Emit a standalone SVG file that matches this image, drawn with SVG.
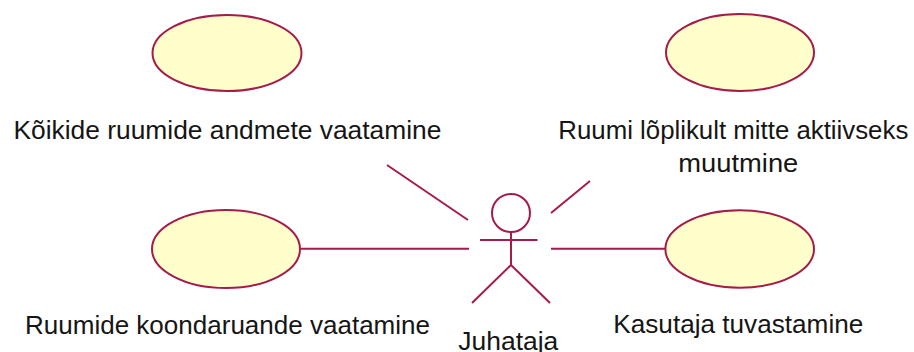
<svg xmlns="http://www.w3.org/2000/svg" width="914" height="352" viewBox="0 0 914 352">
<style>
.uc{fill:#ffffcc;stroke:#a51b4b;stroke-width:2}
.ln{stroke:#a51b4b;stroke-width:2;fill:none}
.lbl{font-family:"Liberation Sans",Arial,sans-serif;font-size:26.4px;fill:#151515;text-anchor:middle}
</style>
<rect width="914" height="352" fill="#ffffff"/>
<g id="connectors">
<line class="ln" x1="387" y1="165" x2="468" y2="220"/>
<line class="ln" x1="551" y1="213" x2="590" y2="181"/>
<line class="ln" x1="300" y1="248.7" x2="469" y2="248.7"/>
<line class="ln" x1="551" y1="248.7" x2="665" y2="248.7"/>
</g>
<g id="uc1">
<ellipse class="uc" cx="227" cy="53" rx="74.5" ry="38"/>
<text class="lbl" x="227.4" y="139" textLength="428" lengthAdjust="spacingAndGlyphs">Kõikide ruumide andmete vaatamine</text>
</g>
<g id="uc2">
<ellipse class="uc" cx="740" cy="52.5" rx="74" ry="38.5"/>
<text class="lbl" x="733.3" y="139.3" textLength="350" lengthAdjust="spacingAndGlyphs">Ruumi lõplikult mitte aktiivseks</text>
<text class="lbl" x="738.3" y="171.7" textLength="120" lengthAdjust="spacingAndGlyphs">muutmine</text>
</g>
<g id="uc3">
<ellipse class="uc" cx="226" cy="249" rx="74" ry="39"/>
<text class="lbl" x="227.5" y="334.3" textLength="405" lengthAdjust="spacingAndGlyphs">Ruumide koondaruande vaatamine</text>
</g>
<g id="uc4">
<ellipse class="uc" cx="739.7" cy="249" rx="74.3" ry="38.7"/>
<text class="lbl" x="738.3" y="333.3" textLength="250" lengthAdjust="spacingAndGlyphs">Kasutaja tuvastamine</text>
</g>
<g id="actor">
<circle class="ln" cx="511" cy="213" r="19"/>
<line class="ln" x1="511" y1="232" x2="511" y2="265"/>
<line class="ln" x1="480" y1="240" x2="537.5" y2="240"/>
<line class="ln" x1="511" y1="265" x2="472" y2="303"/>
<line class="ln" x1="511" y1="265" x2="550" y2="303"/>
<text class="lbl" x="508.3" y="350" textLength="100" lengthAdjust="spacingAndGlyphs">Juhataja</text>
</g>
</svg>
